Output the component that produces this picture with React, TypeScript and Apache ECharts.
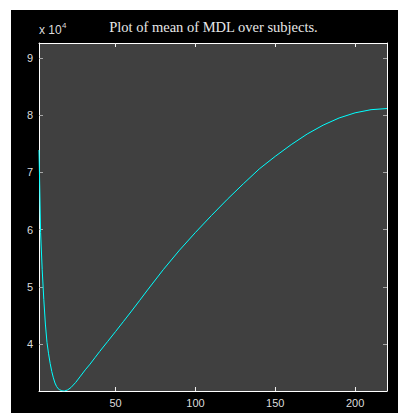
import React, { useEffect, useRef } from "react";
import * as echarts from "echarts";

const titleText = "Plot of mean of MDL over subjects.";
const xValues = [2, 3, 4, 5, 6, 7, 8, 9, 10, 11, 12, 13, 14, 15, 16, 17, 18, 20, 22, 25, 28, 31, 34, 37, 40, 45, 50, 55, 60, 65, 70, 80, 90, 100, 110, 120, 130, 140, 150, 160, 170, 180, 190, 200, 210, 220];
const yValues = [73900, 59500, 53000, 47800, 43500, 40300, 38300, 36600, 35200, 34100, 33200, 32600, 32200, 32000, 31900, 31800, 31800, 32000, 32400, 33300, 34400, 35500, 36500, 37600, 38700, 40450, 42200, 43980, 45770, 47600, 49450, 53050, 56400, 59500, 62450, 65300, 68000, 70600, 72800, 74850, 76700, 78250, 79500, 80400, 80950, 81150];
const xTicks = [50, 100, 150, 200];
const yTicks = [40000, 50000, 60000, 70000, 80000, 90000];
const xMin = 2;
const xMax = 220;
const yMin = 31800;
const yMax = 92600;

export default function App() {
  const ref = useRef<HTMLDivElement>(null);
  useEffect(() => {
    const chart = echarts.init(ref.current!, null, { renderer: "svg" });
    const labelColor = "#dcdcdc";
    const font = "'Liberation Sans', Arial, sans-serif";
    const mkX = (pos: "bottom" | "top", labels: boolean) => ({
      type: "value",
      position: pos,
      min: xMin,
      max: xMax,
      axisLine: { show: true, onZero: false, lineStyle: { color: "#ffffff", width: 1 } },
      axisTick: { show: true, inside: true, length: 4, customValues: xTicks, lineStyle: { color: "#f0f0f0" } },
      axisLabel: { show: labels, customValues: xTicks, color: labelColor, fontSize: 11, fontFamily: font, margin: 6 },
      splitLine: { show: false },
    });
    const mkY = (pos: "left" | "right", labels: boolean) => ({
      type: "value",
      position: pos,
      min: yMin,
      max: yMax,
      axisLine: { show: true, onZero: false, lineStyle: { color: "#ffffff", width: 1 } },
      axisTick: { show: true, inside: true, length: 4, customValues: yTicks, lineStyle: { color: "#a8a8a8" } },
      axisLabel: {
        show: labels,
        customValues: yTicks,
        color: labelColor,
        fontSize: 11,
        fontFamily: font,
        margin: 6,
        formatter: (v: number) => String(Math.round(v / 10000)),
      },
      splitLine: { show: false },
    });
    chart.setOption({
      animation: false,
      backgroundColor: "#000000",
      grid: {
        left: 28,
        top: 33,
        right: 11,
        bottom: 22,
        show: true,
        backgroundColor: "#404040",
        borderColor: "#ffffff",
        borderWidth: 0,
        outerBoundsMode: "none",
      },
      xAxis: [mkX("bottom", true), mkX("top", false)],
      yAxis: [mkY("left", true), mkY("right", false)],
      graphic: [
        {
          type: "text",
          x: 202.5,
          y: 17,
          style: {
            text: titleText,
            fill: "#e8e8e8",
            font: "14.5px 'Liberation Serif', 'Times New Roman', serif",
            align: "center",
            verticalAlign: "middle",
          },
        },
        {
          type: "text",
          x: 28,
          y: 20,
          style: { text: "x 10", fill: labelColor, font: "12px 'Liberation Sans', Arial, sans-serif", align: "left", verticalAlign: "middle" },
        },
        {
          type: "text",
          x: 51,
          y: 15,
          style: { text: "4", fill: labelColor, font: "8px 'Liberation Sans', Arial, sans-serif", align: "left", verticalAlign: "middle" },
        },
      ],
      series: [
        {
          type: "line",
          xAxisIndex: 0,
          yAxisIndex: 0,
          data: xValues.map((x, i) => [x, yValues[i]]),
          showSymbol: false,
          symbol: "none",
          clip: true,
          lineStyle: { color: "#00ffff", width: 1 },
        },
      ],
    });
    return () => chart.dispose();
  }, []);
  return (
    <div
      ref={ref}
      style={{ position: "absolute", left: 11, top: 10, width: 387, height: 403, background: "#000" }}
    />
  );
}
